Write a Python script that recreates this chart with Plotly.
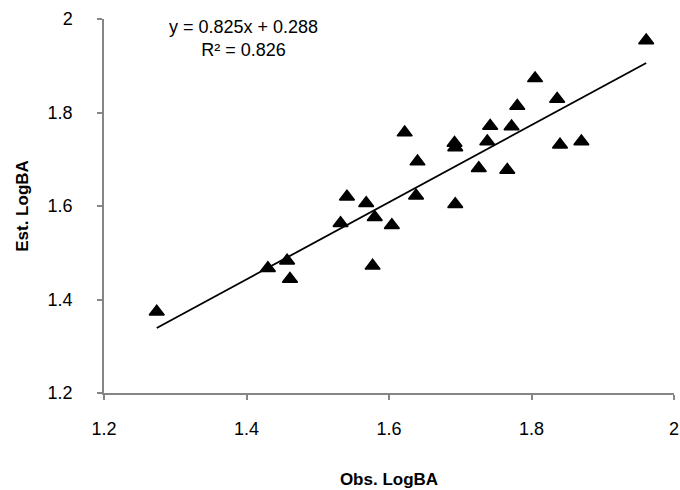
import plotly.graph_objects as go

obs_logba = [1.274, 1.430, 1.457, 1.461, 1.532, 1.541, 1.568, 1.580, 1.577, 1.604,
             1.622, 1.640, 1.638, 1.692, 1.693, 1.693, 1.726, 1.738, 1.742, 1.766,
             1.772, 1.780, 1.805, 1.836, 1.840, 1.870, 1.961]
est_logba = [1.374, 1.467, 1.483, 1.444, 1.563, 1.620, 1.606, 1.576, 1.472, 1.559,
             1.757, 1.695, 1.622, 1.735, 1.725, 1.604, 1.681, 1.738, 1.771, 1.677,
             1.770, 1.814, 1.873, 1.829, 1.731, 1.738, 1.954]

slope = 0.825
intercept = 0.288
r2 = 0.826

tick_vals = [1.2, 1.4, 1.6, 1.8, 2.0]
tick_text = ["1.2", "1.4", "1.6", "1.8", "2"]

font_family = "Liberation Sans, Arial, sans-serif"

x_line = [min(obs_logba), max(obs_logba)]
y_line = [slope * v + intercept for v in x_line]

fig = go.Figure()
fig.add_trace(go.Scatter(
    x=x_line, y=y_line, mode="lines",
    line=dict(color="black", width=1.8), hoverinfo="skip", showlegend=False))
fig.add_trace(go.Scatter(
    x=obs_logba, y=est_logba, mode="markers",
    marker=dict(symbol="triangle-up", size=13, color="black",
                line=dict(color="black", width=1.5)),
    showlegend=False))

fig.add_annotation(
    xref="paper", yref="paper", x=0.245, y=1.012,
    text=f"y = {slope}x + {intercept}<br>R² = {r2}",
    showarrow=False, xanchor="center", yanchor="top",
    font=dict(family=font_family, size=18, color="black"), align="center")

axis_common = dict(
    showgrid=False, zeroline=False, showline=True, linecolor="#868686", linewidth=1.5,
    ticks="outside", ticklen=5, tickcolor="#868686", tickwidth=1.5,
    tickfont=dict(family=font_family, size=18, color="black"),
    tickvals=tick_vals, ticktext=tick_text, range=[1.2, 2.0],
    ticklabeloverflow="allow", automargin=False)

title_font = dict(family=font_family, size=17, color="black")

fig.update_layout(
    width=680, height=490,
    margin=dict(l=104, r=6, t=19, b=97),
    plot_bgcolor="white", paper_bgcolor="white",
    xaxis=dict(**axis_common, ticklabelstandoff=14,
               title=dict(text="<b>Obs. LogBA</b>", standoff=35, font=title_font)),
    yaxis=dict(**axis_common, ticklabelstandoff=21,
               title=dict(text="<b>Est. LogBA</b>", standoff=15, font=title_font)),
)

fig.write_html("out.html")
